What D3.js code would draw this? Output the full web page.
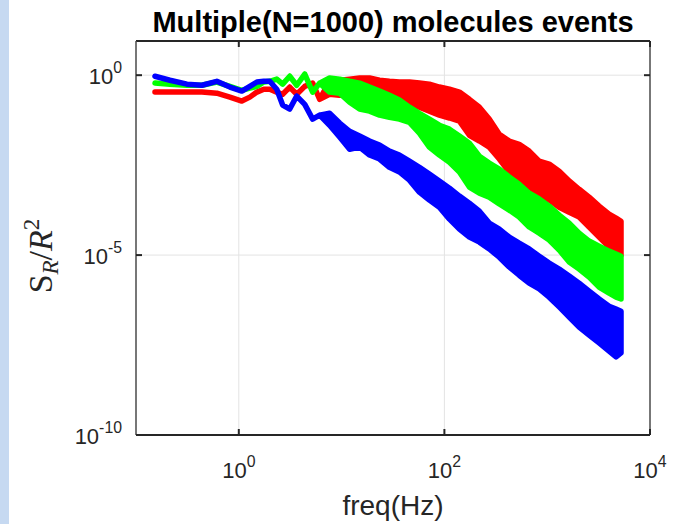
<!DOCTYPE html>
<html><head><meta charset="utf-8">
<script src="https://cdn.jsdelivr.net/npm/d3@7"></script>
<style>body{margin:0;background:#fff;overflow:hidden}</style>
</head><body>
<svg id="chart" width="680" height="524"></svg>
<script>
// ---- data (values given as log10 of S_R/R^2) ----
const freqLow = [0.153,0.214,0.313,0.438,0.611,0.819,1.07,1.28,1.50,1.75,2.00,2.34,2.67,3.13,3.66,4.38,5.23,6.11];
const freqBand = [7.64,9.57,11.97,14.96,18.7,23.4,29.2,36.5,45.7,57.1,71.4,89.3,112,140,175,219,273,342,427,534,668,836,1045,1308,1636,2045,2557,3198,4000,4677,5225];

const redLine = [-0.47,-0.47,-0.47,-0.47,-0.50,-0.61,-0.72,-0.61,-0.47,-0.39,-0.39,-0.47,-0.53,-0.33,-0.53,-0.31,-0.22,-0.67];
const redHi = [-0.17,-0.14,-0.11,-0.08,-0.08,-0.14,-0.17,-0.19,-0.19,-0.22,-0.25,-0.33,-0.39,-0.47,-0.67,-0.89,-1.22,-1.64,-1.83,-1.92,-2.11,-2.39,-2.47,-2.67,-2.94,-3.17,-3.39,-3.64,-3.86,-3.97,-4.06];
const redLo = [-0.53,-0.56,-0.56,-0.61,-0.58,-0.61,-0.64,-0.72,-0.78,-0.89,-1.00,-1.11,-1.19,-1.28,-1.67,-1.83,-2.00,-2.33,-2.69,-2.89,-3.11,-3.31,-3.47,-3.67,-3.81,-3.94,-4.22,-4.50,-4.78,-4.94,-5.00];

const greenLine = [-0.22,-0.25,-0.28,-0.28,-0.19,-0.31,-0.42,-0.36,-0.31,-0.19,-0.17,-0.11,-0.25,-0.03,-0.28,0.03,-0.47,-0.22];
const greenHi = [-0.08,-0.11,-0.17,-0.22,-0.33,-0.44,-0.56,-0.69,-0.89,-1.06,-1.22,-1.39,-1.50,-1.69,-1.89,-2.25,-2.44,-2.61,-2.83,-3.03,-3.28,-3.44,-3.64,-3.89,-4.11,-4.39,-4.61,-4.75,-4.89,-4.97,-5.03];
const greenLo = [-0.47,-0.50,-0.75,-0.94,-1.00,-1.11,-1.17,-1.22,-1.31,-1.61,-2.00,-2.22,-2.42,-2.69,-3.11,-3.28,-3.39,-3.58,-3.75,-3.94,-4.22,-4.39,-4.58,-4.86,-5.19,-5.39,-5.61,-5.89,-6.06,-6.17,-6.22];

const blueLine = [-0.03,-0.14,-0.25,-0.28,-0.17,-0.33,-0.44,-0.31,-0.19,-0.17,-0.17,-0.39,-0.83,-0.94,-0.58,-0.81,-1.22,-1.11];
const blueHi = [-1.06,-1.33,-1.56,-1.69,-1.83,-1.94,-2.11,-2.22,-2.39,-2.56,-2.75,-2.94,-3.14,-3.36,-3.56,-3.78,-4.11,-4.28,-4.50,-4.67,-4.83,-5.03,-5.22,-5.39,-5.58,-5.78,-6.00,-6.22,-6.42,-6.50,-6.56];
const blueLo = [-1.39,-1.72,-2.06,-2.00,-2.22,-2.33,-2.56,-2.69,-2.92,-3.25,-3.47,-3.67,-4.00,-4.28,-4.50,-4.64,-4.83,-5.06,-5.33,-5.56,-5.78,-5.94,-6.17,-6.44,-6.72,-7.00,-7.22,-7.44,-7.67,-7.83,-7.72];

const seriesColors = ["#ff0000","#00ff00","#0000ff"];
const xTicks = [1,100,10000];
const xTickExp = ["0","2","4"];
const yTicks = [1,1e-5,1e-10];
const yTickExp = ["0","-5","-10"];
const titleText = "Multiple(N=1000) molecules events";
const xLabelText = "freq(Hz)";

// ---- layout ----
const L = 136, R = 650, T = 41, B = 435;
const svg = d3.select("#chart");
svg.append("rect").attr("x",0).attr("y",0).attr("width",680).attr("height",524).attr("fill","#fff");
svg.append("rect").attr("x",0).attr("y",0).attr("width",9).attr("height",524).attr("fill","#c6d9f1");

const x = d3.scaleLog().domain([0.1,1e4]).range([L,R]);
const y = d3.scaleLog().domain([1e-10,Math.pow(10,0.95)]).range([B,T]);

// grid
const grid = svg.append("g");
xTicks.forEach(t=>{ if (x(t)<R-1) grid.append("line").attr("x1",x(t)).attr("x2",x(t)).attr("y1",T).attr("y2",B).attr("stroke","#e3e3e3").attr("stroke-width",1); });
yTicks.forEach(t=>{ if (y(t)<B-1) grid.append("line").attr("x1",L).attr("x2",R).attr("y1",y(t)).attr("y2",y(t)).attr("stroke","#e3e3e3").attr("stroke-width",1); });

// data
svg.append("clipPath").attr("id","clip").append("rect").attr("x",L).attr("y",T).attr("width",R-L).attr("height",B-T);
const dg = svg.append("g").attr("clip-path","url(#clip)");
const freqAll = freqLow.concat(freqBand);
const series = [
  {line:redLine, hi:redHi, lo:redLo},
  {line:greenLine, hi:greenHi, lo:greenLo},
  {line:blueLine, hi:blueHi, lo:blueLo}
];
const area = d3.area().x(d=>x(d.f)).y0(d=>y(d.lo)).y1(d=>y(d.hi));
series.forEach((s,k)=>{
  const hi = s.line.concat(s.hi), lo = s.line.concat(s.lo);
  const pts = freqAll.map((f,i)=>({f:f, hi:Math.pow(10,hi[i]), lo:Math.pow(10,lo[i])}));
  dg.append("path").attr("d",area(pts))
    .attr("fill",seriesColors[k]).attr("stroke",seriesColors[k])
    .attr("stroke-width",5.5).attr("stroke-linejoin","round").attr("stroke-linecap","round");
});

// axes box
const ax = svg.append("g");
ax.append("line").attr("x1",L).attr("x2",R).attr("y1",B).attr("y2",B).attr("stroke","#262626").attr("stroke-width",2);
ax.append("line").attr("x1",L).attr("x2",R).attr("y1",T).attr("y2",T).attr("stroke","#262626").attr("stroke-width",2);
ax.append("line").attr("x1",L).attr("x2",L).attr("y1",T).attr("y2",B).attr("stroke","#4a4a4a").attr("stroke-width",1.5);
ax.append("line").attr("x1",R).attr("x2",R).attr("y1",T).attr("y2",B).attr("stroke","#4a4a4a").attr("stroke-width",1.5);
const tl = 6;
xTicks.forEach(t=>{
  ax.append("line").attr("x1",x(t)).attr("x2",x(t)).attr("y1",B).attr("y2",B-tl).attr("stroke","#262626").attr("stroke-width",2);
  ax.append("line").attr("x1",x(t)).attr("x2",x(t)).attr("y1",T).attr("y2",T+tl).attr("stroke","#262626").attr("stroke-width",2);
});
yTicks.forEach(t=>{
  ax.append("line").attr("x1",L).attr("x2",L+tl).attr("y1",y(t)).attr("y2",y(t)).attr("stroke","#262626").attr("stroke-width",2);
  ax.append("line").attr("x1",R).attr("x2",R-tl).attr("y1",y(t)).attr("y2",y(t)).attr("stroke","#262626").attr("stroke-width",2);
});

const FONT = "'Liberation Sans', Arial, sans-serif";
function pow10(sel, exp, size){
  sel.append("tspan").text("10");
  sel.append("tspan").attr("dy",-size*0.5).attr("font-size",size*0.72).text(exp);
}
xTicks.forEach((t,i)=>{
  const tx = ax.append("text").attr("x",x(t)).attr("y",478).attr("text-anchor","middle")
    .attr("font-family",FONT).attr("font-size",22).attr("fill","#262626");
  pow10(tx, xTickExp[i], 22);
});
yTicks.forEach((t,i)=>{
  const tx = ax.append("text").attr("x",122).attr("y",y(t)+9).attr("text-anchor","end")
    .attr("font-family",FONT).attr("font-size",22).attr("fill","#262626");
  pow10(tx, yTickExp[i], 22);
});

// title
svg.append("text").attr("x",(L+R)/2).attr("y",32).attr("text-anchor","middle")
  .attr("font-family",FONT).attr("font-weight","bold").attr("font-size",29).attr("fill","#000").text(titleText);
// x label
svg.append("text").attr("x",(L+R)/2).attr("y",515).attr("text-anchor","middle")
  .attr("font-family",FONT).attr("font-size",28).attr("fill","#262626").text(xLabelText);
// y label S_R/R^2
const yl = svg.append("text").attr("transform","translate(52,256) rotate(-90)").attr("text-anchor","middle")
  .attr("font-family","'Liberation Serif', 'Times New Roman', serif").attr("font-size",34).attr("fill","#262626");
yl.append("tspan").text("S");
yl.append("tspan").attr("font-style","italic").attr("font-size",23).attr("dy",6).text("R");
yl.append("tspan").attr("dy",-6).text("/");
yl.append("tspan").attr("font-style","italic").text("R");
yl.append("tspan").attr("font-size",23).attr("dy",-13).text("2");
</script>
</body></html>
